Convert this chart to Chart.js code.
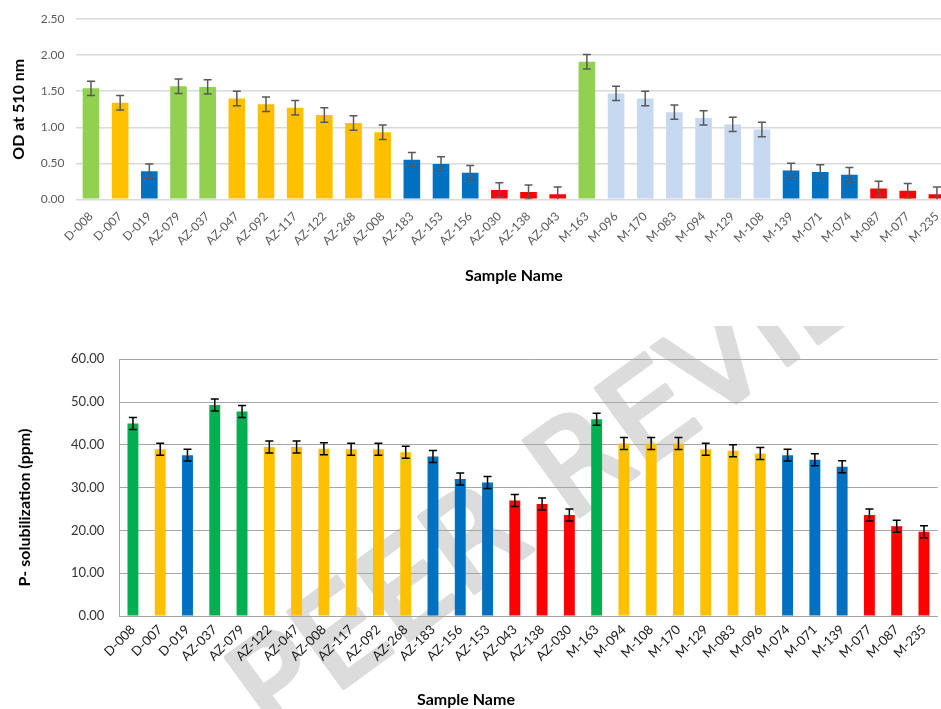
<!DOCTYPE html>
<html>
<head>
<meta charset="utf-8">
<script src="https://cdn.jsdelivr.net/npm/chart.js@4.4.1/dist/chart.umd.min.js"></script>
<style>
  html, body { margin: 0; padding: 0; background: #ffffff; overflow: hidden; width: 941px; height: 709px; }
  #odBox { position: absolute; left: 0; top: 0; width: 960px; height: 300px; }
  #psBox { position: absolute; left: 0; top: 326px; width: 941px; height: 383px; }
</style>
</head>
<body>
<div id="odBox"><canvas id="odChart"></canvas></div>
<div id="psBox"><canvas id="psChart"></canvas></div>
<script>
// ---- Optical density at 510 nm ----
const odSamples = ['D-008','D-007','D-019','AZ-079','AZ-037','AZ-047','AZ-092','AZ-117','AZ-122','AZ-268',
                   'AZ-008','AZ-183','AZ-153','AZ-156','AZ-030','AZ-138','AZ-043','M-163','M-096','M-170',
                   'M-083','M-094','M-129','M-108','M-139','M-071','M-074','M-087','M-077','M-235'];
const odValues  = [1.54, 1.34, 0.39, 1.57, 1.56, 1.40, 1.32, 1.27, 1.17, 1.06,
                   0.93, 0.55, 0.49, 0.37, 0.13, 0.10, 0.07, 1.91, 1.47, 1.40,
                   1.21, 1.13, 1.04, 0.97, 0.40, 0.38, 0.34, 0.15, 0.12, 0.07];
const odErrors  = [0.10, 0.10, 0.10, 0.10, 0.10, 0.10, 0.10, 0.10, 0.10, 0.10,
                   0.10, 0.10, 0.10, 0.10, 0.10, 0.10, 0.10, 0.10, 0.10, 0.10,
                   0.10, 0.10, 0.10, 0.10, 0.10, 0.10, 0.10, 0.10, 0.10, 0.10];
const odGroups  = ['lightGreen','yellow','blue','lightGreen','lightGreen','yellow','yellow','yellow','yellow','yellow',
                   'yellow','blue','blue','blue','red','red','red','lightGreen','paleBlue','paleBlue',
                   'paleBlue','paleBlue','paleBlue','paleBlue','blue','blue','blue','red','red','red'];
const odTicks   = { min: 0, max: 2.5, step: 0.5 };

// ---- Phosphate solubilization (ppm) ----
const psSamples = ['D-008','D-007','D-019','AZ-037','AZ-079','AZ-122','AZ-047','AZ-008','AZ-117','AZ-092',
                   'AZ-268','AZ-183','AZ-156','AZ-153','AZ-043','AZ-138','AZ-030','M-163','M-094','M-108',
                   'M-170','M-129','M-083','M-096','M-074','M-071','M-139','M-077','M-087','M-235'];
const psValues  = [45.0, 39.0, 37.6, 49.3, 47.8, 39.5, 39.5, 39.1, 39.0, 39.0,
                   38.3, 37.3, 32.0, 31.2, 27.0, 26.2, 23.6, 46.0, 40.3, 40.3,
                   40.3, 39.0, 38.6, 38.0, 37.6, 36.5, 34.9, 23.6, 21.0, 19.7];
const psErrors  = [1.4, 1.4, 1.4, 1.4, 1.4, 1.4, 1.4, 1.4, 1.4, 1.4,
                   1.4, 1.4, 1.4, 1.4, 1.4, 1.4, 1.4, 1.4, 1.4, 1.4,
                   1.4, 1.4, 1.4, 1.4, 1.4, 1.4, 1.4, 1.4, 1.4, 1.4];
const psGroups  = ['green','yellow','blue','green','green','yellow','yellow','yellow','yellow','yellow',
                   'yellow','blue','blue','blue','red','red','red','green','yellow','yellow',
                   'yellow','yellow','yellow','yellow','blue','blue','blue','red','red','red'];
const psTicks   = { min: 0, max: 60, step: 10 };

const palette = {
  lightGreen: '#92D050', green: '#00B050', yellow: '#FFC000',
  blue: '#0070C0', red: '#FF0000', paleBlue: '#C6D9F1'
};

// Whiskers of +/- one error value drawn on each bar through the y scale
const errorBars = {
  id: 'errorBars',
  afterDatasetsDraw(chart, args, opts) {
    const { ctx, chartArea } = chart;
    const yScale = chart.scales.y;
    const ds = chart.data.datasets[0];
    const meta = chart.getDatasetMeta(0);
    ctx.save();
    ctx.beginPath();
    ctx.rect(chartArea.left, chartArea.top - 10, chartArea.right - chartArea.left, chartArea.bottom - chartArea.top + 10);
    ctx.clip();
    ctx.strokeStyle = opts.color;
    ctx.lineWidth = opts.width;
    meta.data.forEach((bar, i) => {
      const v = ds.data[i], e = ds.errors[i];
      const yHi = yScale.getPixelForValue(v + e);
      const yLo = yScale.getPixelForValue(v - e);
      const x = bar.x;
      ctx.beginPath();
      ctx.moveTo(x, yHi); ctx.lineTo(x, yLo);
      ctx.moveTo(x - opts.cap, yHi); ctx.lineTo(x + opts.cap, yHi);
      ctx.moveTo(x - opts.cap, yLo); ctx.lineTo(x + opts.cap, yLo);
      ctx.stroke();
    });
    ctx.restore();
  }
};

// Free-standing axis captions for the lower chart
const axisCaptions = {
  id: 'axisCaptions',
  afterDraw(chart, args, opts) {
    const { ctx } = chart;
    ctx.save();
    ctx.fillStyle = '#000000';
    ctx.textAlign = 'center';
    ctx.textBaseline = 'middle';
    ctx.font = opts.font;
    ctx.fillText(opts.xText, opts.xPos[0], opts.xPos[1]);
    ctx.translate(opts.yPos[0], opts.yPos[1]);
    ctx.rotate(-Math.PI / 2);
    ctx.fillText(opts.yText, 0, 0);
    ctx.restore();
  }
};

// Light diagonal stamp behind the lower chart
const stamp = {
  id: 'stamp',
  beforeDraw(chart, args, opts) {
    const { ctx } = chart;
    ctx.save();
    ctx.translate(opts.x, opts.y);
    ctx.rotate(opts.angle * Math.PI / 180);
    ctx.font = opts.font;
    ctx.fillStyle = opts.color;
    ctx.strokeStyle = opts.color;
    ctx.lineWidth = opts.stroke;
    ctx.lineJoin = 'round';
    ctx.textBaseline = 'alphabetic';
    ctx.fillText(opts.text, 0, 0);
    ctx.strokeText(opts.text, 0, 0);
    ctx.restore();
  }
};

new Chart(document.getElementById('odChart'), {
  type: 'bar',
  data: {
    labels: odSamples,
    datasets: [{
      data: odValues,
      errors: odErrors,
      backgroundColor: odGroups.map(g => palette[g]),
      barPercentage: 0.57,
      categoryPercentage: 1.0
    }]
  },
  options: {
    responsive: true,
    maintainAspectRatio: false,
    animation: false,
    layout: { padding: { top: 17.3, right: 8.5, bottom: 0, left: 0 } },
    plugins: {
      legend: { display: false },
      tooltip: { enabled: false },
      errorBars: { color: '#595959', width: 1.5, cap: 4 }
    },
    scales: {
      x: {
        grid: { display: false, drawTicks: false },
        border: { display: false },
        ticks: {
          color: '#595959', font: { family: 'Lato', size: 12 },
          minRotation: 45, maxRotation: 45, autoSkip: false, padding: 10
        },
        title: {
          display: true, text: 'Sample Name', color: '#000000',
          font: { family: 'Lato', size: 16, weight: 'bold' },
          padding: { top: 0, bottom: 15 }
        },
        afterFit(s) { s.height = 100.7; }
      },
      y: {
        min: odTicks.min, max: odTicks.max,
        grid: { color: '#d9d9d9', lineWidth: 1.5, drawTicks: false },
        border: { display: false },
        ticks: {
          stepSize: odTicks.step, color: '#595959', font: { family: 'Lato', size: 12 },
          padding: 12, callback: v => v.toFixed(2)
        },
        title: {
          display: true, text: 'OD at 510 nm', color: '#000000',
          font: { family: 'Lato', size: 16, weight: 'bold' },
          padding: { top: 9, bottom: 0 }
        },
        afterFit(s) { s.width = 76.4; }
      }
    }
  },
  plugins: [errorBars]
});

new Chart(document.getElementById('psChart'), {
  type: 'bar',
  data: {
    labels: psSamples,
    datasets: [{
      data: psValues,
      errors: psErrors,
      backgroundColor: psGroups.map(g => palette[g]),
      barPercentage: 0.40,
      categoryPercentage: 1.0
    }]
  },
  options: {
    responsive: true,
    maintainAspectRatio: false,
    animation: false,
    layout: { padding: { top: 33.3, right: 0.3, bottom: 0, left: 0 } },
    plugins: {
      legend: { display: false },
      tooltip: { enabled: false },
      errorBars: { color: '#000000', width: 1.5, cap: 4 },
      axisCaptions: {
        font: 'bold 16px Lato',
        xText: 'Sample Name', xPos: [466, 374],
        yText: 'P- solubilization (ppm)', yPos: [25, 181.5]
      },
      stamp: {
        text: 'PEER REVIEW', font: '128px "DejaVu Sans"', color: '#dcdcdc', stroke: 5,
        x: 271, y: 414, angle: -36
      }
    },
    scales: {
      x: {
        grid: { display: false, drawTicks: false },
        border: { display: true, color: '#a6a6a6', width: 1 },
        ticks: {
          color: '#1a1a1a', font: { family: 'Lato', size: 13 },
          minRotation: 45, maxRotation: 45, autoSkip: false, padding: 6
        },
        afterFit(s) { s.height = 93; }
      },
      y: {
        min: psTicks.min, max: psTicks.max,
        grid: { color: '#a6a6a6', lineWidth: 1, drawTicks: false },
        border: { display: true, color: '#a6a6a6', width: 1 },
        ticks: {
          stepSize: psTicks.step, color: '#333333', font: { family: 'Lato', size: 13 },
          padding: 15, callback: v => v.toFixed(2)
        },
        afterFit(s) { s.width = 119.3; }
      }
    }
  },
  plugins: [stamp, errorBars, axisCaptions]
});
</script>
</body>
</html>
